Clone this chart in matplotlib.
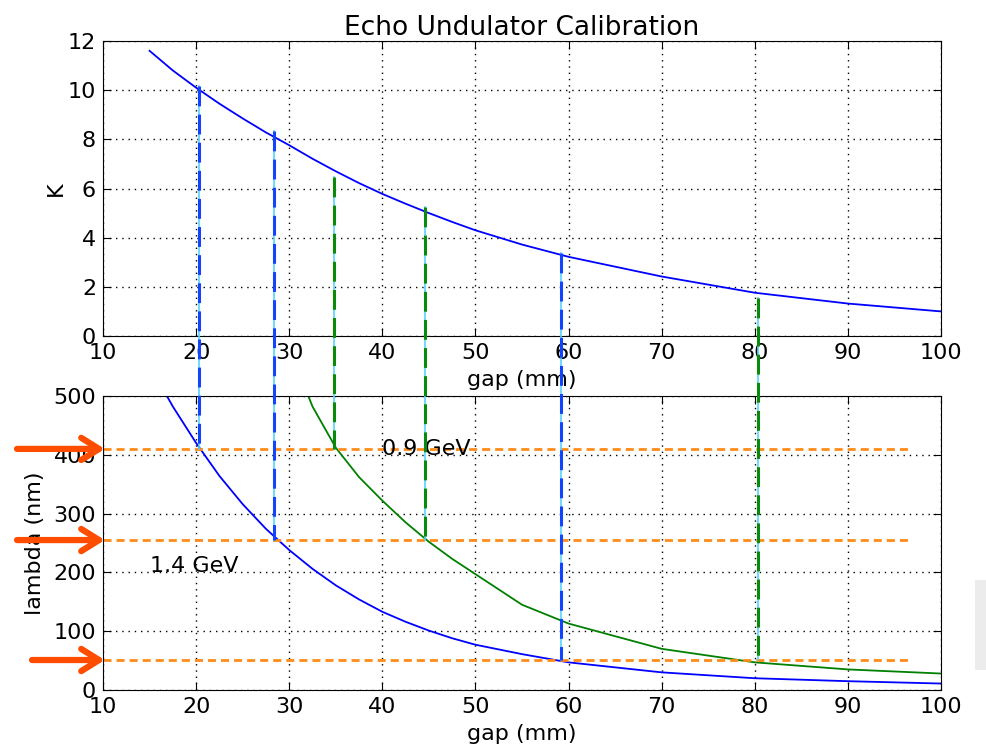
import matplotlib
matplotlib.use("Agg")
import matplotlib.pyplot as plt
from matplotlib.lines import Line2D
from matplotlib.patches import Rectangle

# gap (mm), undulator K and resonant wavelength (nm)
gap = [15, 17.5, 20, 22.5, 25, 27.5, 30, 32.5, 35, 37.5, 40, 42.5, 45, 47.5, 50,
       55, 60, 70, 80, 90, 100]
K = [11.6, 10.8, 10.1, 9.45, 8.85, 8.28, 7.76, 7.21, 6.7, 6.22, 5.78, 5.38, 5.0,
     4.64, 4.3, 3.72, 3.22, 2.42, 1.76, 1.32, 1.0]
lam_14 = [552, 482, 420, 364, 316, 274, 238, 206, 178, 154, 133, 116, 101, 88, 77,
          61, 47, 30, 20, 15, 11]
lam_09 = [1350, 1150, 1000, 850, 740, 660, 580, 482, 412, 362, 322, 285, 252, 223,
          197, 145, 113, 70, 47, 35, 28]

# wavelengths of interest (nm) and where their arrows start
targets = [410, 255, 51]
arrow_start = [0.76, 0.76, 2.37]

# vertical markers: gap, K at top end, lambda at bottom end, colour
mark_gap = [20.27, 28.4, 34.83, 44.6, 59.23, 80.3]
mark_K = [10.17, 8.34, 6.47, 5.25, 3.38, 1.55]
mark_lam = [410, 255, 410, 255, 51, 51]
mark_col = ["#1144ff", "#1144ff", "#0a8a0a", "#0a8a0a", "#1144ff", "#0a8a0a"]

plt.rcParams["font.size"] = 16
plt.rcParams["xtick.direction"] = "in"
plt.rcParams["ytick.direction"] = "in"
plt.rcParams["xtick.top"] = True
plt.rcParams["ytick.right"] = True
plt.rcParams["xtick.major.size"] = 6
plt.rcParams["ytick.major.size"] = 6
plt.rcParams["xtick.major.pad"] = 5
plt.rcParams["ytick.major.pad"] = 5

fig = plt.figure(figsize=(9.87, 7.47), dpi=100)
ax1 = fig.add_axes([0.1044, 0.5502, 0.849, 0.3949])
ax2 = fig.add_axes([0.1044, 0.0763, 0.849, 0.3936])

grid_style = dict(color="black", lw=1, dashes=(1, 3.5))

ax1.plot(gap, K, color="#0000ff", lw=1.3)
ax1.set_xlim(10, 100)
ax1.set_ylim(0, 12)
ax1.set_xticks(range(10, 101, 10))
ax1.set_yticks(range(0, 13, 2))
ax1.grid(True, **grid_style)
ax1.set_xlabel("gap (mm)", labelpad=5)
ax1.set_ylabel("K", labelpad=1)
ax1.set_title("Echo Undulator Calibration", fontsize=19, pad=4)

ax2.plot(gap, lam_14, color="#0000ff", lw=1.3)
ax2.plot(gap, lam_09, color="#008000", lw=1.3)
ax2.set_xlim(10, 100)
ax2.set_ylim(0, 500)
ax2.set_xticks(range(10, 101, 10))
ax2.set_yticks(range(0, 501, 100))
ax2.grid(True, **grid_style)
ax2.set_xlabel("gap (mm)", labelpad=5)
ax2.set_ylabel("lambda (nm)", labelpad=6)
ax2.text(15, 200, "1.4 GeV")
ax2.text(40, 400, "0.9 GeV")

for lam, x0 in zip(targets, arrow_start):
    ax2.plot([10, 96.7], [lam, lam], color="#ff8c1a", lw=2, dashes=(2.9, 1.8))
    ax2.annotate("", xy=(10.2, lam), xytext=(x0, lam),
                 arrowprops=dict(arrowstyle="->,head_length=0.8,head_width=0.5",
                                 color="#ff4d00", lw=4.5, shrinkA=0, shrinkB=0),
                 annotation_clip=False)

# vertical markers run across both panels, drawn in figure coordinates
to_fig = fig.transFigure.inverted()
for g, k, lam, c in zip(mark_gap, mark_K, mark_lam, mark_col):
    x_top, y_top = to_fig.transform(ax1.transData.transform((g, k)))
    x_bot, y_bot = to_fig.transform(ax2.transData.transform((g, lam)))
    fig.add_artist(Line2D([x_top, x_bot], [y_top, y_bot], transform=fig.transFigure,
                          color="#55d4ff", lw=1.2, zorder=5))
    fig.add_artist(Line2D([x_top, x_bot], [y_top, y_bot], transform=fig.transFigure,
                          color=c, lw=2.2, dashes=(6.5, 2.7), zorder=6))

fig.patches.append(Rectangle((975 / 987, 1 - 670 / 747), 12 / 987, 90 / 747,
                             transform=fig.transFigure, facecolor="#ececec",
                             edgecolor="none"))

fig.savefig("out.png", dpi=100)
